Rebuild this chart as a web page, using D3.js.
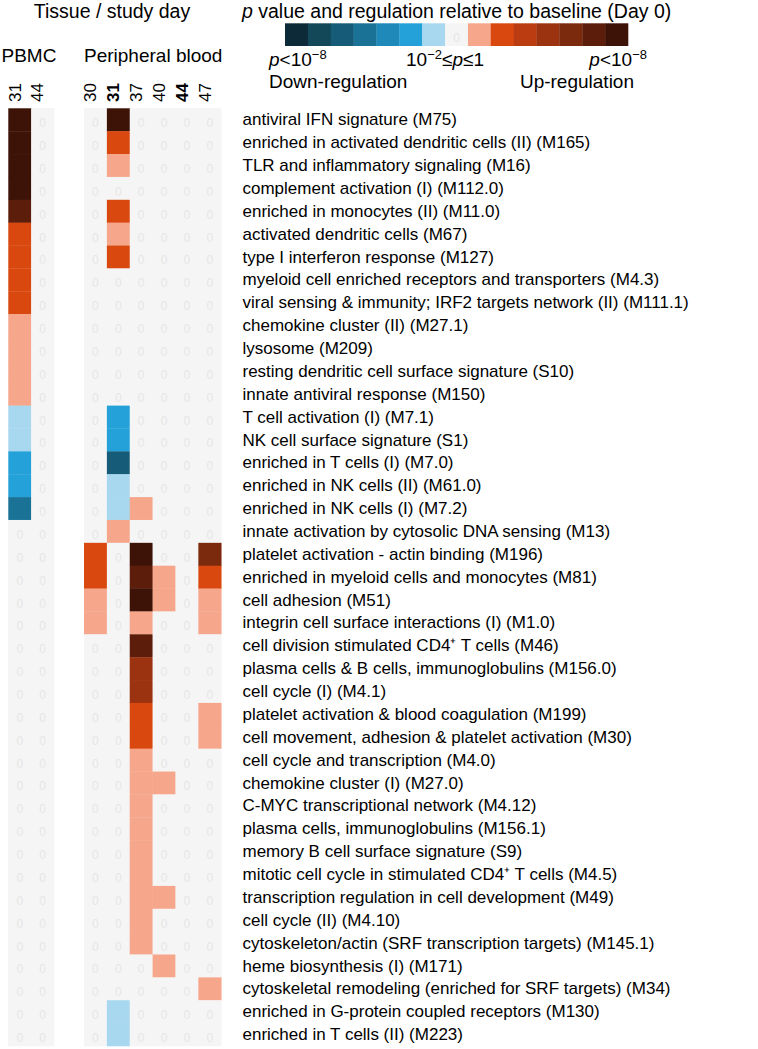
<!DOCTYPE html>
<html>
<head>
<meta charset="utf-8">
<script src="https://cdn.jsdelivr.net/npm/d3@7"></script>
<style>
  body { margin: 0; background: #fff; }
  text { font-family: "Liberation Sans", Arial, sans-serif; fill: #000; }
</style>
</head>
<body>
<div id="chart"></div>
<script>
    const modules = [
        "antiviral IFN signature (M75)",
        "enriched in activated dendritic cells (II) (M165)",
        "TLR and inflammatory signaling (M16)",
        "complement activation (I) (M112.0)",
        "enriched in monocytes (II) (M11.0)",
        "activated dendritic cells (M67)",
        "type I interferon response (M127)",
        "myeloid cell enriched receptors and transporters (M4.3)",
        "viral sensing & immunity; IRF2 targets network (II) (M111.1)",
        "chemokine cluster (II) (M27.1)",
        "lysosome (M209)",
        "resting dendritic cell surface signature (S10)",
        "innate antiviral response (M150)",
        "T cell activation (I) (M7.1)",
        "NK cell surface signature (S1)",
        "enriched in T cells (I) (M7.0)",
        "enriched in NK cells (II) (M61.0)",
        "enriched in NK cells (I) (M7.2)",
        "innate activation by cytosolic DNA sensing (M13)",
        "platelet activation - actin binding (M196)",
        "enriched in myeloid cells and monocytes (M81)",
        "cell adhesion (M51)",
        "integrin cell surface interactions (I) (M1.0)",
        "cell division stimulated CD4\u207A T cells (M46)",
        "plasma cells & B cells, immunoglobulins (M156.0)",
        "cell cycle (I) (M4.1)",
        "platelet activation & blood coagulation (M199)",
        "cell movement, adhesion & platelet activation (M30)",
        "cell cycle and transcription (M4.0)",
        "chemokine cluster (I) (M27.0)",
        "C-MYC transcriptional network (M4.12)",
        "plasma cells, immunoglobulins (M156.1)",
        "memory B cell surface signature (S9)",
        "mitotic cell cycle in stimulated CD4\u207A T cells (M4.5)",
        "transcription regulation in cell development (M49)",
        "cell cycle (II) (M4.10)",
        "cytoskeleton/actin (SRF transcription targets) (M145.1)",
        "heme biosynthesis (I) (M171)",
        "cytoskeletal remodeling (enriched for SRF targets) (M34)",
        "enriched in G-protein coupled receptors (M130)",
        "enriched in T cells (II) (M223)"
    ];

    const pbmcDays = ["31", "44"];
    const bloodDays = ["30", "31", "37", "40", "44", "47"];

    // signed p-value level: -7 (down, p<1e-8) .. 0 (n.s.) .. 7 (up, p<1e-8)
    const levels = d3.range(-7, 8);
    const levelColors = ["#0d2a38", "#134859", "#165b78", "#1a7396", "#1f89b9", "#24a1d8", "#a8d8ef",
        "#f5f5f5",
        "#f6a68b", "#d9480f", "#bb3c11", "#9b3210", "#7b2a0e", "#5c1e0a", "#3d1308"];

    // one value per module, same order as modules
    const pbmcDay31 = [7, 7, 7, 7, 6, 2, 2, 2, 2, 1, 1, 1, 1, -1, -1, -2, -2, -4, 0, 0,
        0, 0, 0, 0, 0, 0, 0, 0, 0, 0, 0, 0, 0, 0, 0, 0, 0, 0, 0, 0, 0];
    const pbmcDay44 = [0, 0, 0, 0, 0, 0, 0, 0, 0, 0, 0, 0, 0, 0, 0, 0, 0, 0, 0, 0,
        0, 0, 0, 0, 0, 0, 0, 0, 0, 0, 0, 0, 0, 0, 0, 0, 0, 0, 0, 0, 0];
    const bloodDay30 = [0, 0, 0, 0, 0, 0, 0, 0, 0, 0, 0, 0, 0, 0, 0, 0, 0, 0, 0, 2,
        2, 1, 1, 0, 0, 0, 0, 0, 0, 0, 0, 0, 0, 0, 0, 0, 0, 0, 0, 0, 0];
    const bloodDay31 = [7, 2, 1, 0, 2, 1, 2, 0, 0, 0, 0, 0, 0, -2, -2, -5, -1, -1, 1, 0,
        0, 0, 0, 0, 0, 0, 0, 0, 0, 0, 0, 0, 0, 0, 0, 0, 0, 0, 0, -1, -1];
    const bloodDay37 = [0, 0, 0, 0, 0, 0, 0, 0, 0, 0, 0, 0, 0, 0, 0, 0, 0, 1, 0, 7,
        6, 7, 1, 6, 4, 4, 2, 2, 1, 1, 1, 1, 1, 1, 1, 1, 1, 0, 0, 0, 0];
    const bloodDay40 = [0, 0, 0, 0, 0, 0, 0, 0, 0, 0, 0, 0, 0, 0, 0, 0, 0, 0, 0, 0,
        1, 1, 0, 0, 0, 0, 0, 0, 0, 1, 0, 0, 0, 0, 1, 0, 0, 1, 0, 0, 0];
    const bloodDay44 = [0, 0, 0, 0, 0, 0, 0, 0, 0, 0, 0, 0, 0, 0, 0, 0, 0, 0, 0, 0,
        0, 0, 0, 0, 0, 0, 0, 0, 0, 0, 0, 0, 0, 0, 0, 0, 0, 0, 0, 0, 0];
    const bloodDay47 = [0, 0, 0, 0, 0, 0, 0, 0, 0, 0, 0, 0, 0, 0, 0, 0, 0, 0, 0, 5,
        2, 1, 1, 0, 0, 0, 1, 1, 0, 0, 0, 0, 0, 0, 0, 0, 0, 0, 1, 0, 0];

    const cell = 22.87,
        gridTop = 108.3;

    const svg = d3.select("#chart")
        .append("svg")
        .attr("width", 758)
        .attr("height", 1049);

    const color = d3.scaleOrdinal().domain(levels).range(levelColors);
    const y = d3.scaleBand()
        .domain(modules)
        .range([gridTop, gridTop + modules.length * cell]);

    // header
    svg.append("text")
        .attr("x", 112).attr("y", 18)
        .attr("text-anchor", "middle")
        .style("font-size", "19.5px")
        .text("Tissue / study day");

    const groups = [
        {name: "PBMC", days: pbmcDays, columns: [pbmcDay31, pbmcDay44], x0: 8.3, labelX: 1.5, bold: []},
        {name: "Peripheral blood", days: bloodDays,
            columns: [bloodDay30, bloodDay31, bloodDay37, bloodDay40, bloodDay44, bloodDay47],
            x0: 84, labelX: 84, bold: ["31", "44"]}
    ];

    groups.forEach(function (group) {
        const x = d3.scaleBand()
            .domain(group.days)
            .range([group.x0, group.x0 + group.days.length * cell]);

        svg.append("text")
            .attr("x", group.labelX).attr("y", 62)
            .style("font-size", "19px")
            .text(group.name);

        svg.append("g")
            .selectAll("text")
            .data(group.days)
            .join("text")
            .attr("transform", d => "translate(" + (x(d) + 12.3) + ",102) rotate(-90)")
            .style("font-size", "17px")
            .style("font-weight", d => group.bold.includes(d) ? "bold" : "normal")
            .text(d => d);

        const cells = group.days.flatMap((day, i) =>
            group.columns[i].map((v, j) => ({day: day, module: modules[j], value: v})));

        const g = svg.append("g");
        // background so neighbouring grey cells show no seams
        g.append("rect")
            .attr("x", x.range()[0])
            .attr("y", y.range()[0])
            .attr("width", x.range()[1] - x.range()[0])
            .attr("height", y.range()[1] - y.range()[0])
            .attr("fill", color(0));

        g.selectAll("rect.cell")
            .data(cells)
            .join("rect")
            .attr("class", "cell")
            .attr("x", d => x(d.day))
            .attr("y", d => y(d.module))
            .attr("width", x.bandwidth() + 0.3)
            .attr("height", y.bandwidth() + 0.3)
            .attr("fill", d => color(d.value));

        g.selectAll("text")
            .data(cells.filter(d => d.value === 0))
            .join("text")
            .attr("x", d => x(d.day) + x.bandwidth() / 2)
            .attr("y", d => y(d.module) + y.bandwidth() / 2 + 7.5)
            .attr("text-anchor", "middle")
            .style("font-size", "12px")
            .style("fill", "#e6e6e6")
            .text("0");
    });

    // module labels
    svg.append("g")
        .selectAll("text")
        .data(modules)
        .join("text")
        .attr("x", 242.5)
        .attr("y", d => y(d) + y.bandwidth() / 2)
        .attr("dy", "0.33em")
        .style("font-size", "17px")
        .text(d => d);

    // colour legend
    const legendX = d3.scaleBand().domain(levels).range([285, 628]);
    const legendY = 23.3;

    const title = svg.append("text")
        .attr("x", 242).attr("y", 18)
        .style("font-size", "19.5px");
    title.append("tspan").style("font-style", "italic").text("p");
    title.append("tspan").text(" value and regulation relative to baseline (Day 0)");

    svg.append("g")
        .selectAll("rect")
        .data(levels)
        .join("rect")
        .attr("x", d => legendX(d))
        .attr("y", legendY)
        .attr("width", legendX.bandwidth() + 0.3)
        .attr("height", 22.7)
        .attr("fill", d => color(d));

    svg.append("text")
        .attr("x", legendX(0) + legendX.bandwidth() / 2)
        .attr("y", legendY + 19)
        .attr("text-anchor", "middle")
        .style("font-size", "12px")
        .style("fill", "#e6e6e6")
        .text("0");

    function pLabel(x, anchor, parts) {
        const t = svg.append("text")
            .attr("x", x).attr("y", 65.5)
            .attr("text-anchor", anchor)
            .style("font-size", "19px");
        parts.forEach(function (p) {
            const s = t.append("tspan").text(p.text);
            if (p.italic) s.style("font-style", "italic");
            if (p.sup) s.attr("dy", -7).style("font-size", "13px");
            if (p.down) s.attr("dy", 7);
        });
    }

    pLabel(269, "start", [{text: "p", italic: true}, {text: "<10"}, {text: "\u22128", sup: true}]);
    pLabel(647, "end", [{text: "p", italic: true}, {text: "<10"}, {text: "\u22128", sup: true}]);
    pLabel(484, "end", [{text: "10"}, {text: "\u22122", sup: true}, {text: "\u2264", down: true},
        {text: "p", italic: true}, {text: "\u22641"}]);

    svg.append("text")
        .attr("x", 269).attr("y", 87.5)
        .style("font-size", "19px")
        .text("Down-regulation");
    svg.append("text")
        .attr("x", 634).attr("y", 87.5)
        .attr("text-anchor", "end")
        .style("font-size", "19px")
        .text("Up-regulation");
</script>
</body>
</html>
